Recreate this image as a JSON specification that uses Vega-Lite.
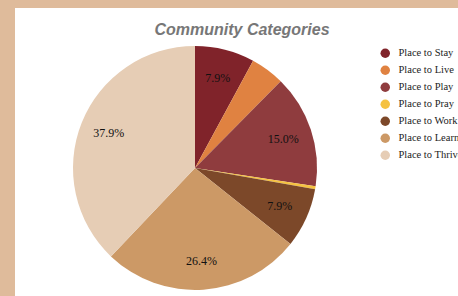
{
  "$schema": "https://vega.github.io/schema/vega-lite/v6.json",
  "background": "#dfbb9b",
  "padding": {"left": 15, "top": 8, "right": 0, "bottom": 0},
  "spacing": 0,
  "data": {
    "values": [
      {"category": "Place to Stay", "share": 0.079, "order": 1},
      {"category": "Place to Live", "share": 0.045, "order": 2},
      {"category": "Place to Play", "share": 0.150, "order": 3},
      {"category": "Place to Pray", "share": 0.004, "order": 4},
      {"category": "Place to Work", "share": 0.079, "order": 5},
      {"category": "Place to Learn", "share": 0.264, "order": 6},
      {"category": "Place to Thrive", "share": 0.379, "order": 7}
    ]
  },
  "hconcat": [
    {
      "width": 360,
      "height": 320,
      "view": {"fill": "white", "stroke": null},
      "title": {
        "text": "Community Categories",
        "anchor": "middle",
        "offset": -30,
        "dx": 47,
        "font": "Liberation Sans",
        "fontSize": 16,
        "fontWeight": "bold",
        "fontStyle": "italic",
        "color": "#777777"
      },
      "layer": [
        {
          "mark": {"type": "arc", "outerRadius": 122},
          "encoding": {
            "theta": {"field": "share", "type": "quantitative", "stack": true},
            "order": {"field": "order", "type": "quantitative"},
            "color": {
              "field": "category",
              "type": "nominal",
              "scale": {
                "domain": ["Place to Stay", "Place to Live", "Place to Play", "Place to Pray", "Place to Work", "Place to Learn", "Place to Thrive"],
                "range": ["#80232a", "#e08241", "#8f3c3e", "#f5c242", "#7c4829", "#cc9966", "#e6cdb5"]
              },
              "legend": {
                "orient": "none",
                "legendX": 365,
                "legendY": 40,
                "title": null,
                "symbolType": "circle",
                "symbolSize": 90,
                "symbolStrokeWidth": 0,
                "labelFont": "Liberation Serif",
                "labelFontSize": 10.5,
                "labelFontWeight": "normal",
                "labelColor": "#222222",
                "labelOffset": 8,
                "rowPadding": 6,
                "labelLimit": 200
              }
            }
          }
        },
        {
          "mark": {"type": "text", "radius": 93, "font": "Liberation Serif", "fontSize": 12, "color": "#111111"},
          "encoding": {
            "theta": {"field": "share", "type": "quantitative", "stack": true},
            "order": {"field": "order", "type": "quantitative"},
            "text": {
              "condition": {"test": "datum.share < 0.05", "value": ""},
              "field": "share",
              "type": "quantitative",
              "format": ".1%"
            }
          }
        }
      ]
    },
    {
      "width": 100,
      "height": 320,
      "view": {"fill": "white", "stroke": null},
      "mark": {"type": "text"},
      "encoding": {"text": {"value": ""}}
    }
  ],
  "config": {"view": {"fill": "white", "stroke": null}}
}
